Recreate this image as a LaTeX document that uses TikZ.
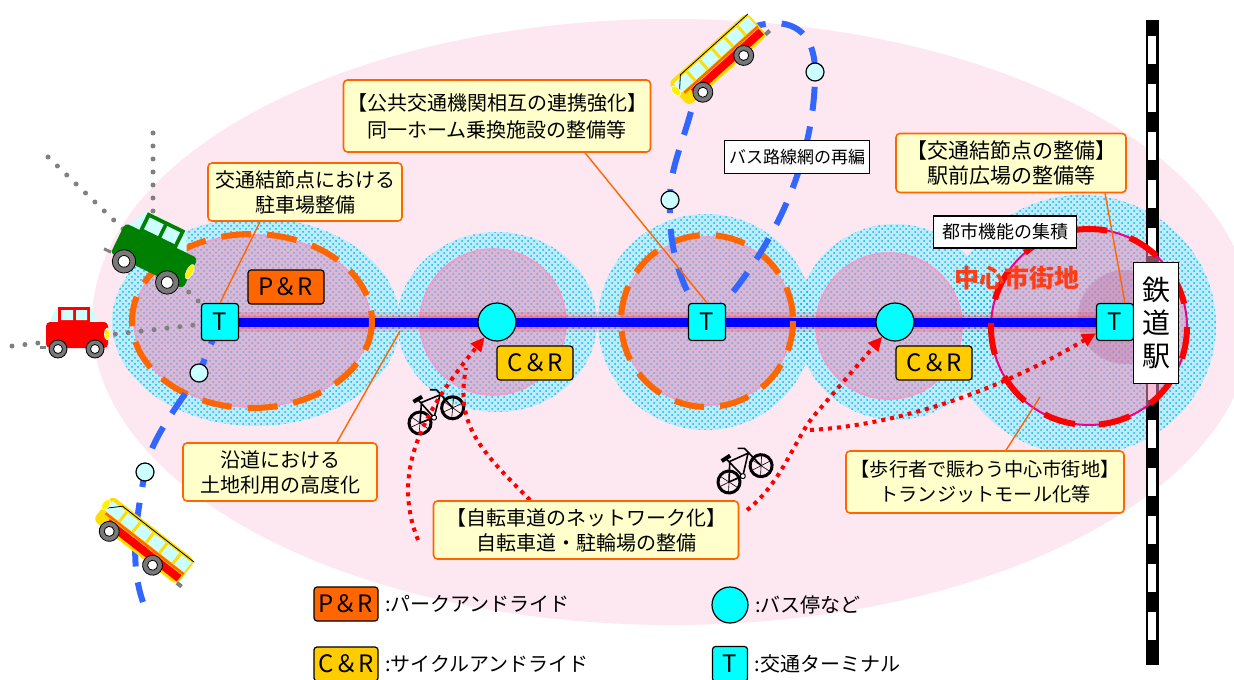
\documentclass[tikz,border=0pt]{standalone}
\usepackage{fontspec}
\setmainfont{Noto Sans CJK JP}
\usetikzlibrary{patterns,arrows.meta,positioning}

\definecolor{paleink}{RGB}{253,231,240}
\definecolor{halo}{RGB}{0,185,245}
\definecolor{halobase}{RGB}{190,236,250}
\definecolor{zone}{RGB}{240,140,185}
\definecolor{zoneline}{RGB}{245,155,200}
\definecolor{pr}{RGB}{255,102,0}
\definecolor{cr}{RGB}{255,204,0}
\definecolor{memo}{RGB}{255,255,204}
\definecolor{term}{RGB}{0,255,255}
\definecolor{halt}{RGB}{204,255,255}
\definecolor{route}{RGB}{51,102,255}
\definecolor{glass}{RGB}{204,255,255}
\definecolor{busbody}{RGB}{255,221,0}
\definecolor{tyre}{RGB}{120,120,120}
\definecolor{carg}{RGB}{0,128,0}
\definecolor{core}{RGB}{255,60,20}
\definecolor{spot}{RGB}{190,110,160}

\tikzset{
  pics/car/.style={code={
    \fill[glass] (-28,-7) -- (-20,-23) -- (14,-23) -- (22,-7) -- cycle;
    \fill[#1] (-19,-23) rectangle (13,-7);
    \fill[glass] (-16,-20) rectangle (-4,-10) (-1,-20) rectangle (10,-10);
    \fill[#1, rounded corners=2pt] (-31,-8) rectangle (31,18);
    \draw[gray, line width=1.5pt] (-37,17) -- (-31,17);
    \filldraw[fill=yellow, draw=white, line width=0.3pt] (30,4) ellipse (2.5 and 6);
    \foreach \w in {-19,18}{
      \filldraw[fill=tyre, draw=black, line width=0.4pt] (\w,19) circle (9);
      \filldraw[fill=white, draw=black, line width=0.4pt] (\w,19) circle (4.5);
    }
  }},
  pics/bus/.style={code={
    \fill[busbody, rounded corners=3pt] (-53,-19) rectangle (53,12);
    \fill[glass] (-49,-15) rectangle (51,-3);
    \foreach \x in {-31,-14,3,20,37}
      \draw[busbody, line width=1.5pt] (\x,-15) -- (\x,-3);
    \draw[line width=0.4pt] (-49,-6) -- (-38,-17) -- (53,-17);
    \fill[red] (-40,1) rectangle (51,9);
    \draw[pr, line width=1.2pt] (-47,-1) -- (52,-1);
    \filldraw[fill=yellow, draw=white, line width=0.3pt] (-52,-8) ellipse (3.5 and 6);
    \fill[gray] (52,8) rectangle (58,12);
    \foreach \x in {-33,22}{
      \filldraw[fill=tyre, draw=black, line width=0.4pt] (\x,11) circle (10);
      \filldraw[fill=white, draw=black, line width=0.4pt] (\x,11) circle (5);
    }
  }},
  pics/bike/.style={code={
    \foreach \x in {0,36}{
      \draw[line width=1.5pt] (\x,0) circle (11);
      \foreach \a in {0,60,120}
        \draw[line width=0.3pt, shift={(\x,0)}] (\a:10) -- (\a+180:10);
    }
    \draw[line width=0.8pt, line join=round] (0,0) -- (15,1) -- (30,-17) -- (10,-18) -- cycle
      (15,1) -- (8,-22) (36,0) -- (29,-23) -- (23,-26);
    \draw[line width=2pt] (3,-22) -- (13,-23);
    \filldraw[fill=white, line width=0.5pt] (15,1) circle (2.5);
  }}
}

\begin{document}
\begin{tikzpicture}[x=0.5pt, y=-0.5pt,
  tbox/.style={draw, fill=term, rounded corners=1.5pt, minimum size=18.5pt, inner sep=0pt, line width=0.6pt, font=\fontsize{12}{12}\selectfont},
  stop/.style={draw, circle, fill=term, minimum size=19pt, inner sep=0pt, line width=0.6pt},
  minor/.style={draw, circle, fill=halt, minimum size=9pt, inner sep=0pt, line width=0.6pt},
  prbox/.style={draw, fill=pr, rounded corners=1.5pt, minimum width=38pt, minimum height=17pt, inner sep=0pt, line width=0.6pt, font=\fontsize{12}{12}\selectfont},
  crbox/.style={prbox, fill=cr},
  note/.style={draw=pr, fill=memo, rounded corners=2pt, line width=0.8pt, align=center, inner sep=1pt, font=\fontsize{10}{12.5}\selectfont},
  tag/.style={draw, fill=white, line width=0.6pt, inner sep=0pt, font=\fontsize{8.5}{10}\selectfont},
  lead/.style={draw=pr, line width=0.7pt},
  ride/.style={draw=red, line width=2pt, dash pattern=on 2pt off 2.5pt},
  queue/.style={draw=gray, line width=2.5pt, line cap=round, dash pattern=on 0pt off 6.5pt},
  busline/.style={draw=route, line width=3pt, dash pattern=on 12pt off 8pt},
  keytext/.style={font=\fontsize{10}{11}\selectfont, inner sep=0pt}]
\useasboundingbox (0,0) rectangle (1234,679);

\coordinate (ta) at (220,322);
\coordinate (tb) at (707,322);
\coordinate (tc) at (1115,322);
\coordinate (sa) at (497,322);
\coordinate (sb) at (895,322);
\coordinate (ma) at (199,373);
\coordinate (mb) at (145,472);
\coordinate (mc) at (670,200);
\coordinate (md) at (815,72);
\coordinate (rb) at (143,602);
\coordinate (qa) at (48,157);
\coordinate (qb) at (153,133);
\coordinate (qc) at (153,232);
\coordinate (qd) at (12,346);
\coordinate (ca) at (418,540);
\coordinate (cb) at (530,500);
\coordinate (cc) at (466,368);
\coordinate (cd) at (747,510);
\coordinate (ce) at (812,418);
\coordinate (cf) at (810,430);
\coordinate (ka) at (400,331);
\coordinate (kb) at (1040,397);

\fill[paleink] (672,322) ellipse (580 and 303);
\foreach \cx/\cy/\rx/\ry in {256/322/144/104, 497/322/100/90, 706/322/108/108, 895/322/98/98, 1082/325/134/130}
  \fill[halobase] (\cx,\cy) ellipse [x radius=\rx, y radius=\ry];
\foreach \cx/\cy/\rx/\ry in {256/322/144/104, 497/322/100/90, 706/322/108/108, 895/322/98/98, 1082/325/134/130}
  \fill[pattern=crosshatch dots, pattern color=halo] (\cx,\cy) ellipse [x radius=\rx, y radius=\ry];

\draw[line width=6.5pt] (1152,20) -- (1152,665);
\draw[white, line width=4pt, dash pattern=on 14pt off 10pt] (1152,36) -- (1152,650);

\filldraw[fill=zone, fill opacity=0.55, draw=zoneline, line width=0.8pt] (252,321) ellipse (118 and 86) (493,322) circle (73) (707,321) ellipse (85 and 84) (889,326) circle (73);
\fill[zone, fill opacity=0.55] (1089,327) circle (98);
\fill[spot, fill opacity=0.35] (1125,317) circle (47);
\draw[magenta, line width=1pt] (1089,327) circle (98);

\draw[red, line width=10pt, opacity=0.12] (ta) -- (tc);
\draw[red, line width=6.5pt, opacity=0.2] (ta) -- (tc);
\draw[blue, line width=4.5pt] (ta) -- (tc);

\draw[pr, line width=3pt, dash pattern=on 15pt off 8pt] (252,321) ellipse (120 and 87) (707,321) circle (86);
\draw[red, line width=3pt, dash pattern=on 16pt off 12pt] (1089,327) circle (98);

\draw[queue] (qa) -- (ta);
\draw[queue] (qb) -- (qc);
\draw[queue] (qd) -- (ta);

\draw[busline] (tb) .. controls (775,250) and (815,160) .. (md) .. controls (815,30) and (790,18) .. (760,25)
  .. controls (730,35) and (700,80) .. (690,115) .. controls (680,150) and (670,170) .. (mc)
  .. controls (668,250) and (682,292) .. (tb);
\draw[busline] (ta) -- (ma) .. controls (175,410) and (150,440) .. (mb) .. controls (138,510) and (128,560) .. (rb);

\node[tbox] (t0) at (ta) {T};
\node[tbox] (t1) at (tb) {T};
\node[tbox] (t2) at (tc) {T};
\node[stop] (s0) at (sa) {};
\node[stop] (s1) at (sb) {};
\node[minor] (m0) at (ma) {};
\node[minor] (m1) at (mb) {};
\node[minor] (m2) at (mc) {};
\node[minor] (m3) at (md) {};
\node[prbox] (p0) at (286,287) {P＆R};
\node[crbox] (c0) at (535,363) {C＆R};
\node[crbox] (c1) at (934,363) {C＆R};

\pic[rotate=-26, scale=1.3] at (157,250) {car=carg};
\pic at (77,330) {car=red};
\pic[rotate=-38] at (142,543) {bus};
\pic[rotate=42] at (720,62) {bus};

\pic[rotate=25] at (420,423) {bike};
\pic[rotate=27] at (729,482) {bike};
\draw[ride, -{Triangle[length=7pt, width=6.5pt]}] (ca) .. controls (390,470) and (425,410) .. (s0);
\draw[ride] (cb) .. controls (480,450) and (455,425) .. (cc);
\draw[ride, -{Triangle[length=7pt, width=6.5pt]}] (cd) .. controls (780,485) and (795,440) .. (ce) -- (s1);
\draw[ride, -{Triangle[length=7pt, width=6.5pt]}] (cf) .. controls (900,425) and (1000,390) .. (t2);

\node[note, minimum width=97pt, minimum height=29pt] (n0) at (305,192) {交通結節点における\\駐車場整備};
\node[note, minimum width=153.5pt, minimum height=36pt, font=\fontsize{10}{13.5}\selectfont] (n1) at (497,116) {【公共交通機関相互の連携強化】\\同一ホーム乗換施設の整備等};
\node[note, minimum width=115pt, minimum height=29.5pt, font=\fontsize{10.5}{12.5}\selectfont] (n2) at (1011,163) {【交通結節点の整備】\\駅前広場の整備等};
\node[note, minimum width=97pt, minimum height=29pt] (n3) at (280,472) {沿道における\\土地利用の高度化};
\node[note, minimum width=152.5pt, minimum height=29pt] (n4) at (586,530) {【自転車道のネットワーク化】\\自転車道・駐輪場の整備};
\node[note, minimum width=139pt, minimum height=31pt, font=\fontsize{9.6}{12.5}\selectfont] (n5) at (985,482) {【歩行者で賑わう中心市街地】\\トランジットモール化等};
\draw[lead] ([xshift=-22.5pt]n0.south) -- (t0.north);
\draw[lead] ([xshift=44pt]n1.south) -- (t1.north);
\draw[lead] ([xshift=47pt]n2.south) -- ([xshift=5pt]t2.north);
\draw[lead] ([xshift=28.5pt]n3.north) -- (ka);
\draw[lead] ([xshift=10.5pt]n5.north) -- (kb);

\node[tag, minimum width=72.5pt, minimum height=16.5pt] (g0) at (797,157) {バス路線網の再編};
\node[tag, minimum width=71.5pt, minimum height=16pt, font=\fontsize{9}{10}\selectfont] (g1) at (1005,232) {都市機能の集積};
\node[text=core, font=\bfseries\fontsize{12.5}{13}\selectfont] (z0) at (1017,278) {中心市街地};
\node[draw, fill=white, line width=0.7pt, minimum width=22.5pt, minimum height=60.5pt, inner sep=0pt, align=center, font=\fontsize{14}{16.5}\selectfont] (st) at (1156,323) {鉄\\道\\駅};

\node[prbox, minimum width=32pt] (l0) at (346,604) {P＆R};
\node[keytext] (k0) [right=3pt of l0] {:パークアンドライド};
\node[crbox, minimum width=32pt] (l1) at (346,664) {C＆R};
\node[keytext] (k1) [right=3pt of l1] {:サイクルアンドライド};
\node[stop, minimum size=18pt] (l2) at (730,605) {};
\node[keytext] (k2) [right=3pt of l2] {:バス停など};
\node[tbox, minimum size=17.5pt] (l3) at (730,664) {T};
\node[keytext] (k3) [right=3pt of l3] {:交通ターミナル};
\end{tikzpicture}
\end{document}
